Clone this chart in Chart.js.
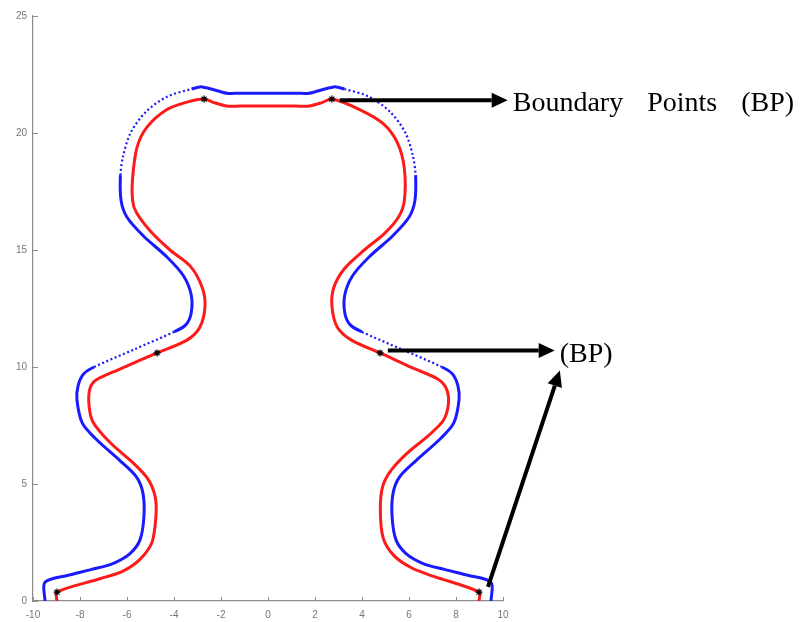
<!DOCTYPE html>
<html>
<head>
<meta charset="utf-8">
<title>Boundary points</title>
<script src="https://cdn.jsdelivr.net/npm/chart.js@4.4.1/dist/chart.umd.min.js"></script>
<style>
  html, body { margin: 0; padding: 0; background: #fff; }
  #wrap { width: 801px; height: 622px; }
</style>
</head>
<body>
<div id="wrap"><canvas id="chart" width="801" height="622"></canvas></div>
<script>
const xTicks = [-10, -8, -6, -4, -2, 0, 2, 4, 6, 8, 10];
const yTicks = [0, 5, 10, 15, 20, 25];

// inner (red) profile, traced from bottom left round to bottom right
const redX = [-8.98, -8.98, -7.15, -6.17, -5.45, -4.94, -4.77, -4.8, -5.1, -5.74, -6.7, -7.45, -7.62, -7.57, -7.3, -6.4,
  -4.72, -3.45, -2.9, -2.68, -2.8, -3.3, -4.17, -5.0, -5.6, -5.76, -5.76, -5.57, -5.15, -4.3, -3.45, -2.72, -2.3, -1.75, -1.2,
  1.2, 1.75, 2.3, 2.72, 3.9, 4.9, 5.5, 5.8, 5.8, 5.55, 4.95, 4.1, 3.25, 2.8, 2.72, 2.95, 3.55, 4.77, 6.1, 7.2, 7.58, 7.68,
  7.45, 6.8, 5.9, 5.25, 4.88, 4.78, 4.9, 5.35, 6.1, 7.05, 8.98, 8.98];
const redY = [0, 0.38, 0.95, 1.28, 1.78, 2.5, 3.6, 4.45, 5.2, 5.9, 6.75, 7.65, 8.4, 9.1, 9.45, 9.87,
  10.6, 11.15, 11.7, 12.6, 13.4, 14.3, 15.0, 15.8, 16.6, 17.1, 18.1, 19.4, 20.25, 21.0, 21.32, 21.45, 21.3, 21.15, 21.15,
  21.15, 21.15, 21.3, 21.45, 21.0, 20.4, 19.6, 18.5, 17.1, 16.4, 15.7, 15.0, 14.2, 13.4, 12.6, 11.7, 11.15, 10.6, 9.98, 9.5, 9.1, 8.45,
  7.7, 7.05, 6.3, 5.6, 4.9, 3.9, 2.7, 1.95, 1.42, 1.05, 0.38, 0];

// outer (blue) profile, same direction
const blueX = [-9.49, -9.49, -8.5, -7.5, -6.6, -5.9, -5.45, -5.28, -5.32, -5.6, -6.3, -7.3, -7.9, -8.13, -8.08, -7.85,
  -7.4, -5.7, -4.0, -3.5, -3.27, -3.27, -3.6, -4.3, -5.3, -6.0, -6.25, -6.28, -6.17, -5.85, -5.2, -4.3, -3.25, -2.8, -1.75, -1.2,
  1.2, 1.75, 2.8, 3.25, 4.3, 5.2, 5.85, 6.17, 6.28, 6.25, 6.0, 5.3, 4.3, 3.6, 3.27, 3.27, 3.5, 4.0, 5.7, 7.4, 7.85, 8.08,
  8.13, 7.9, 7.3, 6.3, 5.6, 5.32, 5.28, 5.45, 5.9, 6.6, 7.5, 8.5, 9.49, 9.49];
const blueY = [0, 0.8, 1.1, 1.35, 1.6, 2.0, 2.6, 3.6, 4.6, 5.3, 6.0, 6.9, 7.6, 8.6, 9.2, 9.7,
  10.0, 10.75, 11.5, 11.8, 12.3, 13.1, 13.9, 14.7, 15.6, 16.4, 17.1, 18.2, 19.0, 20.0, 20.9, 21.55, 21.88, 21.97, 21.7, 21.7,
  21.7, 21.7, 21.97, 21.88, 21.55, 20.9, 20.0, 19.0, 18.2, 17.1, 16.4, 15.6, 14.7, 13.9, 13.1, 12.3, 11.8, 11.5, 10.75, 10.0, 9.7, 9.2,
  8.6, 7.6, 6.9, 6.0, 5.3, 4.6, 3.6, 2.6, 2.0, 1.6, 1.35, 1.1, 0.8, 0];

// boundary points on the inner profile
const bpX = [-8.98, -4.72, -2.72, 2.72, 4.77, 8.98];
const bpY = [0.38, 10.6, 21.45, 21.45, 10.6, 0.38];

// callouts: arrow tail, arrow head (data units) and the text at the head
const arrowFromX = [3.05, 5.1, 9.36];
const arrowFromY = [21.4, 10.7, 0.6];
const arrowToX = [10.2, 12.2, 12.42];
const arrowToY = [21.4, 10.7, 9.85];
const arrowText = ['Boundary Points (BP)', '(BP)', ''];

// sparse stretches of the outer profile, drawn dotted (index ranges into blueX)
const blueDotted = [[16, 18], [27, 32], [39, 44], [53, 55]];

const toPoints = (xs, ys) => xs.map((x, i) => ({ x: x, y: ys[i] }));

const isDotted = i => blueDotted.some(([a, b]) => i >= a && i < b);

const axisColor = '#8c8c8c';

const innerTicks = {
  id: 'innerTicks',
  afterDraw(chart) {
    const { ctx, chartArea, scales } = chart;
    ctx.save();
    ctx.strokeStyle = axisColor;
    ctx.lineWidth = 1;
    scales.x.ticks.forEach((t, i) => {
      const px = Math.round(scales.x.getPixelForTick(i)) + 0.5;
      ctx.beginPath();
      ctx.moveTo(px, chartArea.bottom);
      ctx.lineTo(px, chartArea.bottom - 4);
      ctx.stroke();
    });
    scales.y.ticks.forEach((t, i) => {
      const py = Math.round(scales.y.getPixelForTick(i)) + 0.5;
      ctx.beginPath();
      ctx.moveTo(chartArea.left, py);
      ctx.lineTo(chartArea.left + 5, py);
      ctx.stroke();
    });
    ctx.restore();
  }
};

const callouts = {
  id: 'callouts',
  afterDraw(chart) {
    const { ctx, scales } = chart;
    ctx.save();
    ctx.strokeStyle = '#000';
    ctx.fillStyle = '#000';
    ctx.lineWidth = 4;
    ctx.font = '28px "Liberation Serif", "Times New Roman", serif';
    ctx.textBaseline = 'alphabetic';
    arrowFromX.forEach((fx, i) => {
      const x0 = scales.x.getPixelForValue(fx);
      const y0 = scales.y.getPixelForValue(arrowFromY[i]);
      const x1 = scales.x.getPixelForValue(arrowToX[i]);
      const y1 = scales.y.getPixelForValue(arrowToY[i]);
      const ang = Math.atan2(y1 - y0, x1 - x0);
      const headLen = 16, headHalf = 7.5;
      const bx = x1 - headLen * Math.cos(ang);
      const by = y1 - headLen * Math.sin(ang);
      ctx.beginPath();
      ctx.moveTo(x0, y0);
      ctx.lineTo(bx, by);
      ctx.stroke();
      ctx.beginPath();
      ctx.moveTo(x1, y1);
      ctx.lineTo(bx - headHalf * Math.sin(ang), by + headHalf * Math.cos(ang));
      ctx.lineTo(bx + headHalf * Math.sin(ang), by - headHalf * Math.cos(ang));
      ctx.closePath();
      ctx.fill();
      if (arrowText[i]) {
        // words are spread a little wider than a normal space
        let tx = x1 + 5;
        arrowText[i].split(' ').forEach(w => {
          ctx.fillText(w, tx, y1 + 11);
          tx += ctx.measureText(w).width + 24;
        });
      }
    });
    ctx.restore();
  }
};

new Chart(document.getElementById('chart'), {
  type: 'scatter',
  data: {
    datasets: [{
      label: 'BP',
      data: toPoints(bpX, bpY),
      pointStyle: 'star',
      radius: 3.5,
      borderColor: '#000',
      borderWidth: 1.2,
      showLine: false,
      order: 0
    }, {
      label: 'inner',
      data: toPoints(redX, redY),
      showLine: true,
      borderColor: '#ff1a1a',
      borderWidth: 3,
      pointRadius: 0,
      tension: 0.3,
      order: 1
    }, {
      label: 'outer',
      data: toPoints(blueX, blueY),
      showLine: true,
      borderColor: '#1a1aff',
      borderWidth: 3,
      pointRadius: 0,
      tension: 0.3,
      order: 2,
      segment: {
        borderDash: c => isDotted(c.p0DataIndex) ? [2, 2.5] : undefined,
        borderWidth: c => isDotted(c.p0DataIndex) ? 2.2 : undefined
      }
    }]
  },
  options: {
    responsive: false,
    devicePixelRatio: 1,
    animation: false,
    layout: { padding: { top: 16, right: 298, left: 0, bottom: 0 } },
    plugins: {
      legend: { display: false },
      tooltip: { enabled: false }
    },
    scales: {
      x: {
        type: 'linear',
        min: -10,
        max: 10,
        afterBuildTicks: s => { s.ticks = xTicks.map(v => ({ value: v })); },
        afterFit: s => { s.height = 21; },
        grid: { display: false, drawTicks: false },
        border: { color: axisColor, width: 1.2 },
        ticks: {
          color: '#777',
          padding: 8,
          maxRotation: 0,
          font: { family: '"Liberation Sans", Arial, sans-serif', size: 10 }
        }
      },
      y: {
        type: 'linear',
        min: 0,
        max: 25,
        afterBuildTicks: s => { s.ticks = yTicks.map(v => ({ value: v })); },
        afterFit: s => { s.width = 33; },
        grid: { display: false, drawTicks: false },
        border: { color: axisColor, width: 1.2 },
        ticks: {
          color: '#777',
          padding: 6,
          font: { family: '"Liberation Sans", Arial, sans-serif', size: 10 }
        }
      }
    }
  },
  plugins: [innerTicks, callouts]
});
</script>
</body>
</html>
